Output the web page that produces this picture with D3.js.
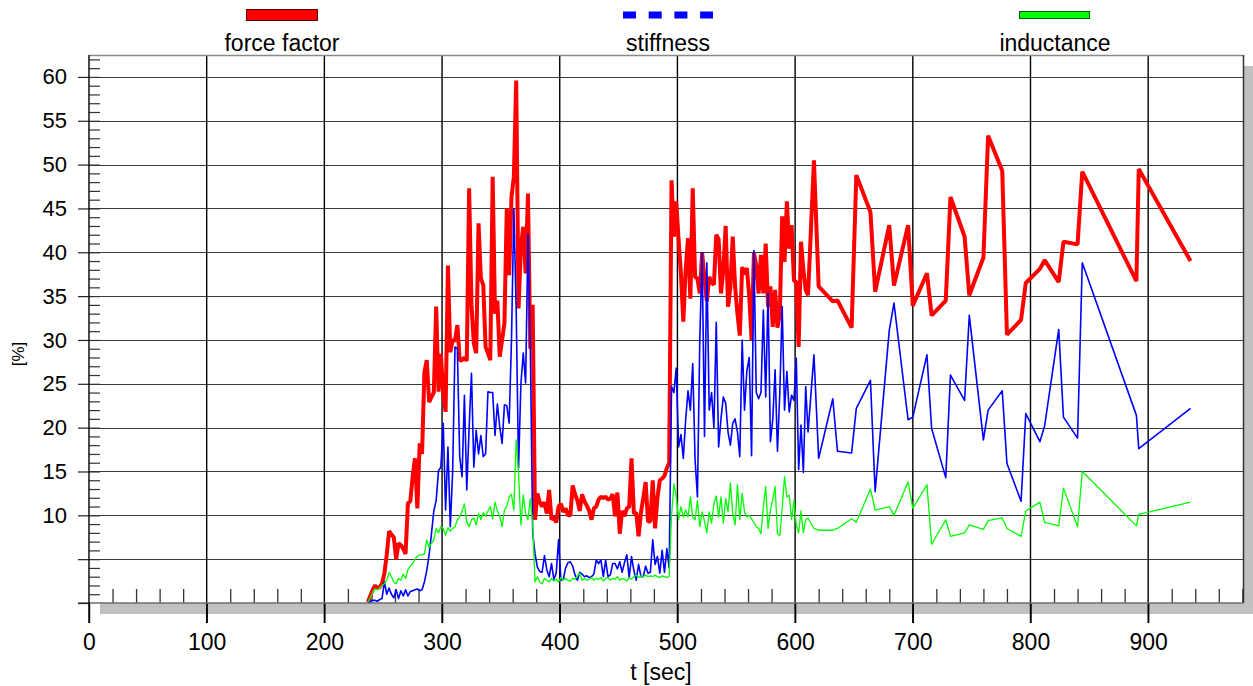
<!DOCTYPE html>
<html>
<head>
<meta charset="utf-8">
<script src="https://cdn.jsdelivr.net/npm/d3@7"></script>
<style>
  body { margin: 0; background: #fff; }
  svg text { font-family: Arial, "Liberation Sans", sans-serif; fill: #000; }
</style>
</head>
<body>
<svg id="chart" width="1253" height="686"></svg>
<script>
// sample times [sec]
const time = [
  237, 239, 241, 243, 245, 247, 249, 251, 253, 255,
  257, 259, 261, 263, 265, 267, 269, 271, 273, 275,
  277, 279, 281, 283, 285, 287, 289, 291, 293, 295,
  297, 299, 301, 303, 305, 307, 309, 311, 313, 315,
  317, 319, 321, 323, 325, 327, 329, 331, 333, 335,
  337, 339, 341, 343, 345, 347, 349, 351, 353, 355,
  357, 359, 361, 363, 365, 367, 369, 371, 373, 375,
  377, 379, 381, 383, 385, 387, 389, 391, 393, 395,
  397, 399, 401, 403, 405, 407, 409, 411, 413, 415,
  417, 419, 421, 423, 425, 427, 429, 431, 433, 435,
  437, 439, 441, 443, 445, 447, 449, 451, 453, 455,
  457, 459, 461, 463, 465, 467, 469, 471, 473, 475,
  477, 479, 481, 483, 485, 487, 489, 491, 493, 495,
  497, 499, 501, 503, 505, 507, 509, 511, 513, 515,
  517, 519, 521, 523, 525, 527, 529, 531, 533, 535,
  537, 539, 541, 543, 545, 547, 549, 551, 553, 555,
  557, 559, 561, 563, 565, 567, 569, 571, 573, 575,
  577, 579, 581, 583, 585, 587, 589, 591, 593, 595,
  597, 599, 601, 603, 605, 607, 609, 611,
  616, 620, 632, 636, 648, 652, 664, 668, 680, 684,
  696, 700, 712, 716, 728, 732, 744, 748, 760, 764,
  776, 780, 792, 796, 808, 812, 824, 828, 840, 844,
  890, 892, 936
];

// force factor [%]
const forceFactor = [
  0.1, 0.8, 1.5, 2.0, 1.7, 1.8, 2.2, 3.4, 5.5, 8.2,
  7.8, 7.5, 5.0, 6.8, 6.6, 6.2, 5.6, 11.4, 11.6, 14.4,
  16.5, 10.8, 18.2, 17.0, 26.3, 27.7, 22.9, 23.5, 24.0, 33.8,
  24.1, 28.4, 23.9, 21.8, 38.5, 28.6, 30.0, 29.9, 31.7, 27.7,
  27.7, 28.0, 27.6, 47.3, 34.0, 29.6, 28.5, 43.3, 37.0, 36.3,
  29.2, 28.5, 27.7, 48.6, 33.0, 34.5, 28.1, 30.0, 31.9, 45.0,
  37.4, 46.3, 48.6, 59.6, 33.6, 40.6, 42.9, 37.6, 46.7, 29.0,
  34.0, 9.5, 12.5, 11.5, 11.0, 11.5, 10.2, 12.9, 9.5, 9.8,
  9.2, 11.0, 11.3, 10.4, 10.8, 10.0, 10.0, 13.4, 12.4, 11.7,
  10.5, 12.4, 11.6, 11.1, 10.5, 9.5, 10.8, 11.0, 11.8, 12.1,
  12.0, 12.1, 11.8, 11.9, 12.4, 9.9, 12.6, 7.9, 10.5, 9.9,
  10.8, 11.0, 16.5, 10.2, 10.3, 7.6, 10.3, 12.0, 13.8, 9.3,
  9.3, 14.0, 8.5, 12.0, 14.0, 14.2, 14.5, 15.4, 16.0, 48.2,
  41.8, 45.8, 41.4, 37.5, 32.1, 38.0, 41.6, 34.7, 47.3, 37.2,
  37.0, 35.3, 39.9, 37.0, 34.4, 37.2, 36.5, 36.3, 42.0, 41.5,
  35.3, 38.0, 43.0, 33.8, 36.0, 41.8, 36.1, 33.0, 30.5, 38.3,
  37.5, 38.2, 35.0, 30.0, 39.9, 38.5, 35.3, 39.7, 35.3, 41.0,
  33.8, 36.1, 31.5, 35.7, 31.4, 33.0, 44.1, 38.9, 45.8, 40.4,
  43.1, 36.8, 36.6, 29.2, 41.2, 38.0, 35.7, 35.1,
  50.5, 36.1, 34.4, 34.5, 31.4, 48.8, 44.6, 35.5, 43.1, 36.2,
  43.1, 33.9, 37.6, 32.8, 34.5, 46.3, 41.8, 35.1, 39.4, 53.3,
  49.3, 30.6, 32.3, 36.5, 38.1, 39.1, 36.6, 41.2, 40.9, 49.2,
  36.7, 49.5, 39.0
];

// stiffness [%]
const stiffness = [
  0.1, 0.2, 0.3, 0.3, 0.2, 0.4, 0.5, 2.4, 1.0, 1.7,
  1.0, 0.6, 1.5, 0.5, 1.4, 0.8, 1.5, 0.8, 1.3, 1.4,
  1.5, 1.6, 1.4, 1.5, 2.4, 3.7, 5.5, 7.9, 10.5, 11.7,
  15.1, 15.5, 20.5, 10.6, 17.8, 8.7, 15.0, 29.2, 29.0, 16.7,
  14.4, 23.7, 12.9, 20.0, 26.2, 15.5, 19.7, 17.0, 19.1, 16.7,
  17.0, 24.1, 24.0, 24.0, 19.1, 22.7, 20.1, 18.2, 22.6, 22.5,
  20.5, 30.0, 45.0, 33.4, 15.4, 25.0, 28.5, 25.1, 42.0, 29.2,
  8.0, 5.6, 4.1, 3.6, 3.5, 5.4, 3.8, 3.0, 4.5, 2.7,
  3.4, 7.2, 2.6, 2.7, 4.0, 4.6, 4.7, 4.2, 3.2, 2.6,
  3.5, 3.3, 3.0, 3.1, 2.9, 3.0, 3.3, 4.9, 4.5, 4.9,
  3.0, 4.9, 3.0, 3.2, 4.5, 4.5, 3.9, 4.7, 3.5, 4.6,
  5.5, 2.9, 5.3, 3.7, 2.6, 4.4, 3.0, 3.0, 4.2, 3.4,
  3.5, 7.2, 4.4, 5.3, 3.4, 6.0, 3.5, 6.2, 4.0, 24.7,
  24.0, 26.8, 17.8, 19.2, 16.5, 20.9, 24.2, 22.0, 27.3, 16.3,
  12.1, 30.0, 39.9, 19.0, 38.8, 22.0, 24.0, 20.0, 32.0, 17.8,
  21.0, 23.5, 22.8, 19.5, 18.0, 20.5, 21.0, 19.5, 16.7, 30.0,
  22.0, 26.5, 28.0, 16.8, 40.2, 24.0, 23.3, 24.0, 33.4, 23.5,
  35.3, 18.4, 20.9, 26.6, 17.3, 24.0, 33.8, 22.0, 26.4, 21.8,
  23.7, 23.1, 27.9, 15.2, 20.3, 14.9, 24.7, 19.5,
  28.3, 16.5, 23.3, 17.3, 17.1, 22.2, 25.4, 12.7, 31.1, 34.2,
  20.9, 21.2, 28.3, 19.9, 14.3, 26.0, 23.1, 32.8, 18.6, 22.0,
  24.2, 15.9, 11.6, 21.6, 18.4, 20.2, 31.2, 21.2, 18.8, 38.8,
  21.4, 17.6, 22.2
];

// inductance [%]
const inductance = [
  0.1, 0.6, 1.2, 1.6, 1.5, 1.7, 2.0, 2.2, 2.6, 3.5,
  3.0, 2.4, 2.2, 2.8, 2.6, 3.3, 2.8, 3.8, 4.2, 4.5,
  5.0, 5.3, 5.5, 5.5, 5.6, 7.2, 6.3, 6.8, 7.2, 8.5,
  8.0, 8.7, 8.5, 7.7, 8.6, 8.2, 8.5, 8.7, 9.5, 9.8,
  10.5, 11.3, 9.2, 8.7, 9.5, 9.7, 8.9, 10.2, 9.5, 10.3,
  9.9, 10.5, 11.0, 9.6, 11.5, 10.5, 9.9, 8.7, 10.6, 11.0,
  12.1, 12.4, 10.6, 18.6, 14.8, 8.9, 12.3, 10.2, 9.5, 11.9,
  9.0, 2.4, 3.0, 2.4, 2.2, 2.8, 2.6, 2.4, 2.8, 2.5,
  2.7, 2.4, 2.9, 2.6, 2.8, 2.6, 2.5, 2.8, 2.7, 3.1,
  3.4, 2.6, 2.8, 2.6, 2.7, 2.9, 2.6, 2.8, 2.7, 2.9,
  2.5, 2.8, 2.9, 2.6, 2.8, 2.7, 3.0, 2.6, 2.8, 2.7,
  2.5, 2.9, 2.7, 3.0, 3.2, 2.9, 3.1, 3.0, 3.2, 3.0,
  3.1, 3.0, 3.2, 3.0, 2.9, 3.1, 3.0, 2.9, 3.0, 10.0,
  13.6, 12.1, 9.5, 11.0, 9.8, 10.6, 9.8, 12.1, 9.8, 9.5,
  11.7, 8.7, 10.4, 9.3, 8.0, 10.4, 9.1, 11.3, 12.2, 9.8,
  12.1, 9.1, 11.9, 10.4, 13.7, 10.2, 8.9, 13.5, 9.5, 12.5,
  10.4, 9.8, 10.0, 9.6, 9.2, 8.7, 8.5, 7.9, 10.9, 13.3,
  8.5, 10.6, 11.8, 13.3, 7.9, 7.7, 10.8, 14.4, 12.1, 12.3,
  9.5, 11.7, 8.9, 8.0, 10.5, 8.0, 9.5, 9.7,
  8.5, 8.3, 8.3, 8.5, 9.6, 9.2, 13.0, 10.6, 11.0, 10.0,
  13.8, 10.8, 13.5, 6.7, 9.5, 7.6, 8.0, 8.9, 8.4, 9.4,
  9.7, 8.5, 7.6, 10.5, 11.5, 9.2, 8.8, 13.1, 8.7, 15.0,
  8.8, 10.1, 11.5
];

const xMajorTicks = [0, 100, 200, 300, 400, 500, 600, 700, 800, 900];
const yMajorTicks = [0, 5, 10, 15, 20, 25, 30, 35, 40, 45, 50, 55, 60];
const yLabelled = [10, 15, 20, 25, 30, 35, 40, 45, 50, 55, 60];
const seriesNames = ["force factor", "stiffness", "inductance"];

const svg = d3.select("#chart");
const plot = { left: 89, right: 1243.5, top: 55, bottom: 603 };

const x = d3.scaleLinear().domain([0, 981]).range([plot.left, plot.right]);
const y = d3.scaleLinear().domain([0, 62.5]).range([plot.bottom, plot.top]);

// drop shadow and plot background
svg.append("rect")
  .attr("x", plot.left + 11).attr("y", plot.top + 11)
  .attr("width", plot.right - plot.left).attr("height", plot.bottom - plot.top)
  .attr("fill", "#c0c0c0");
svg.append("rect")
  .attr("x", plot.left).attr("y", plot.top)
  .attr("width", plot.right - plot.left).attr("height", plot.bottom - plot.top)
  .attr("fill", "#fff");

// horizontal grid
svg.append("g").selectAll("line")
  .data(yMajorTicks.filter(d => d > 0))
  .join("line")
  .attr("x1", plot.left).attr("x2", plot.right)
  .attr("y1", d => Math.round(y(d)) + 0.5).attr("y2", d => Math.round(y(d)) + 0.5)
  .attr("stroke", "#3c3c3c").attr("stroke-width", 1);

// vertical grid (continues below the axis as the major tick)
svg.append("g").selectAll("line")
  .data(xMajorTicks.filter(d => d > 0))
  .join("line")
  .attr("x1", d => x(d)).attr("x2", d => x(d))
  .attr("y1", plot.top).attr("y2", plot.bottom + 20)
  .attr("stroke", "#000").attr("stroke-width", 1.4);

// frame: top and right borders
svg.append("line")
  .attr("x1", plot.left).attr("x2", plot.right)
  .attr("y1", plot.top + 0.5).attr("y2", plot.top + 0.5)
  .attr("stroke", "#8a8a8a").attr("stroke-width", 1.5);
svg.append("line")
  .attr("x1", plot.right).attr("x2", plot.right)
  .attr("y1", plot.top).attr("y2", plot.bottom)
  .attr("stroke", "#333").attr("stroke-width", 1.5);

// minor x ticks every 20 s, pointing up from the axis
const xMinor = d3.range(20, 981, 20).filter(d => d % 100 !== 0);
svg.append("g")
  .attr("transform", `translate(0,${plot.bottom})`)
  .call(d3.axisTop(x).tickValues(xMinor).tickSize(14).tickFormat(""))
  .call(g => g.select(".domain").remove())
  .call(g => g.selectAll(".tick line").attr("stroke", "#333").attr("stroke-width", 1.3));

// x axis with labels
svg.append("g")
  .attr("transform", `translate(0,${plot.bottom})`)
  .call(d3.axisBottom(x).tickValues(xMajorTicks).tickSize(20).tickPadding(11).tickFormat(d3.format("d")))
  .call(g => g.select(".domain").remove())
  .call(g => g.selectAll(".tick line").attr("stroke", "#000").attr("stroke-width", 1.4))
  .call(g => g.selectAll(".tick text").attr("font-size", 23).attr("fill", "#000"));

// x baseline
svg.append("line")
  .attr("x1", plot.left - 11).attr("x2", plot.right)
  .attr("y1", plot.bottom).attr("y2", plot.bottom)
  .attr("stroke", "#6e6e6e").attr("stroke-width", 1.5);

// minor y ticks, pointing into the plot
svg.append("g")
  .attr("transform", `translate(${plot.left},0)`)
  .call(d3.axisRight(y).tickValues(d3.range(1, 63)).tickSize(11).tickFormat(""))
  .call(g => g.select(".domain").remove())
  .call(g => g.selectAll(".tick line").attr("stroke", "#333").attr("stroke-width", 1.2));

// y axis with labels
svg.append("g")
  .attr("transform", `translate(${plot.left},0)`)
  .call(d3.axisLeft(y).tickValues(yMajorTicks).tickSize(11).tickPadding(11)
    .tickFormat(d => yLabelled.includes(d) ? d : ""))
  .call(g => g.select(".domain").remove())
  .call(g => g.selectAll(".tick line").attr("stroke", "#222").attr("stroke-width", 1.2))
  .call(g => g.selectAll(".tick text").attr("font-size", 22).attr("fill", "#000"));

// y axis line
svg.append("line")
  .attr("x1", plot.left).attr("x2", plot.left)
  .attr("y1", plot.top).attr("y2", plot.bottom + 20)
  .attr("stroke", "#000").attr("stroke-width", 1.4);

// data lines
const lineOf = values => d3.line()
  .x((d, i) => x(time[i]))
  .y(d => y(d))(values);

svg.append("path")
  .attr("d", lineOf(forceFactor))
  .attr("fill", "none").attr("stroke", "#ff0000")
  .attr("stroke-width", 4).attr("stroke-linejoin", "bevel");
svg.append("path")
  .attr("d", lineOf(stiffness))
  .attr("fill", "none").attr("stroke", "#0000ff")
  .attr("stroke-width", 1.6).attr("stroke-linejoin", "round");
svg.append("path")
  .attr("d", lineOf(inductance))
  .attr("fill", "none").attr("stroke", "#00ff00")
  .attr("stroke-width", 1.3).attr("stroke-linejoin", "round");

// legend
const legend = svg.append("g");
legend.append("rect")
  .attr("x", 246.5).attr("y", 9.5).attr("width", 71).attr("height", 11)
  .attr("fill", "#ff0000").attr("stroke", "#5a0000").attr("stroke-width", 1);
legend.append("line")
  .attr("x1", 623).attr("x2", 713).attr("y1", 15).attr("y2", 15)
  .attr("stroke", "#0000ff").attr("stroke-width", 7)
  .attr("stroke-dasharray", "13,12.7");
legend.append("rect")
  .attr("x", 1019.5).attr("y", 11.5).attr("width", 70).attr("height", 7)
  .attr("fill", "#00ff00").attr("stroke", "#006000").attr("stroke-width", 1);

legend.selectAll("text")
  .data(seriesNames)
  .join("text")
  .attr("x", (d, i) => [282, 668, 1055][i])
  .attr("y", 51)
  .attr("text-anchor", "middle")
  .attr("font-size", 23)
  .text(d => d);

// axis titles
svg.append("text")
  .attr("x", 661).attr("y", 680)
  .attr("text-anchor", "middle").attr("font-size", 23)
  .text("t [sec]");
svg.append("text")
  .attr("transform", "translate(24,354) rotate(-90)")
  .attr("text-anchor", "middle").attr("font-size", 17)
  .text("[%]");
</script>
</body>
</html>
